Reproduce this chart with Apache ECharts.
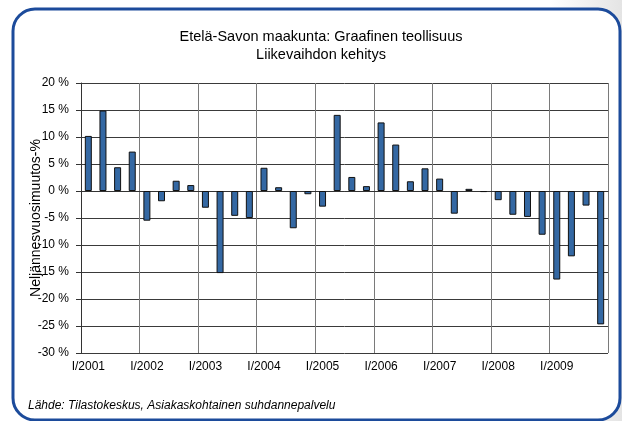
<!DOCTYPE html>
<html>
<head>
<meta charset="utf-8">
<script src="https://cdn.jsdelivr.net/npm/echarts@6/dist/echarts.min.js"></script>
<style>
    html, body { margin: 0; padding: 0; background: #fff; }
    #chart { width: 622px; height: 421px; }
</style>
</head>
<body>
<div id="chart"></div>
<script>
// quarters I/2001 ... IV/2009
var years = ['2001', '2002', '2003', '2004', '2005', '2006', '2007', '2008', '2009'];
var quarters = ['I', 'II', 'III', 'IV'];

// quarterly change, %
var change = [
    10.2, 14.9, 4.4, 7.3,
    -5.5, -1.9, 1.9, 1.1,
    -3.1, -15.2, -4.6, -5.0,
    4.3, 0.7, -6.9, -0.6,
    -2.9, 14.1, 2.6, 0.9,
    12.7, 8.6, 1.8, 4.2,
    2.3, -4.2, 0.4, -0.2,
    -1.7, -4.4, -4.8, -8.1,
    -16.4, -12.1, -2.7, -24.7
];

var categories = [];
years.forEach(function (y) {
    quarters.forEach(function (q) {
        categories.push(q + '/' + y);
    });
});

var myChart = echarts.init(document.getElementById('chart'));

var font = 'Liberation Sans, Arial, sans-serif';

var option = {
    animation: false,
    backgroundColor: '#fff',
    graphic: [
        {
            type: 'rect',
            z: -10,
            shape: {x: 550, y: 0, width: 72, height: 421},
            style: {
                fill: new echarts.graphic.LinearGradient(0, 0, 1, 0, [
                    {offset: 0, color: '#ffffff'},
                    {offset: 1, color: '#e4e4e4'}
                ])
            }
        },
        {
            type: 'rect',
            z: -5,
            shape: {x: 13, y: 9, width: 607, height: 411, r: 22},
            style: {fill: '#fff', stroke: '#1c4b9b', lineWidth: 3}
        },
        {
            type: 'text',
            left: 28,
            top: 400,
            style: {
                text: 'Lähde: Tilastokeskus, Asiakaskohtainen suhdannepalvelu',
                font: 'italic 12px ' + font,
                fill: '#000'
            }
        }
    ],
    title: {
        text: 'Etelä-Savon maakunta: Graafinen teollisuus\nLiikevaihdon kehitys',
        left: 316,
        top: 23,
        textAlign: 'center',
        textStyle: {
            fontFamily: font,
            fontSize: 14.5,
            fontWeight: 'normal',
            color: '#000',
            lineHeight: 18
        }
    },
    grid: {
        left: 81,
        right: 14,
        top: 83,
        bottom: 68
    },
    xAxis: {
        type: 'category',
        data: categories,
        boundaryGap: true,
        axisLine: {lineStyle: {color: '#333', width: 1}},
        axisTick: {show: false},
        axisLabel: {
            interval: 3,
            margin: 8,
            fontFamily: font,
            fontSize: 12,
            color: '#000'
        },
        splitLine: {
            show: true,
            interval: 3,
            lineStyle: {color: '#7a7a7a', width: 1}
        }
    },
    yAxis: {
        type: 'value',
        min: -30,
        max: 20,
        interval: 5,
        name: 'Neljännesvuosimuutos-%',
        nameLocation: 'middle',
        nameGap: 38,
        nameMoveOverlap: false,
        nameTextStyle: {
            fontFamily: font,
            fontSize: 14,
            color: '#000'
        },
        axisLine: {show: true, lineStyle: {color: '#333'}},
        axisTick: {show: true, length: 5, lineStyle: {color: '#333'}},
        axisLabel: {
            formatter: '{value} %',
            margin: 12,
            fontFamily: font,
            fontSize: 12,
            color: '#000'
        },
        splitLine: {lineStyle: {color: '#3a3a3a', width: 1}}
    },
    series: [
        {
            type: 'bar',
            data: change,
            barWidth: 7,
            itemStyle: {
                color: '#3468a3',
                borderColor: '#111',
                borderWidth: 1
            }
        }
    ]
};

myChart.setOption(option);
</script>
</body>
</html>
